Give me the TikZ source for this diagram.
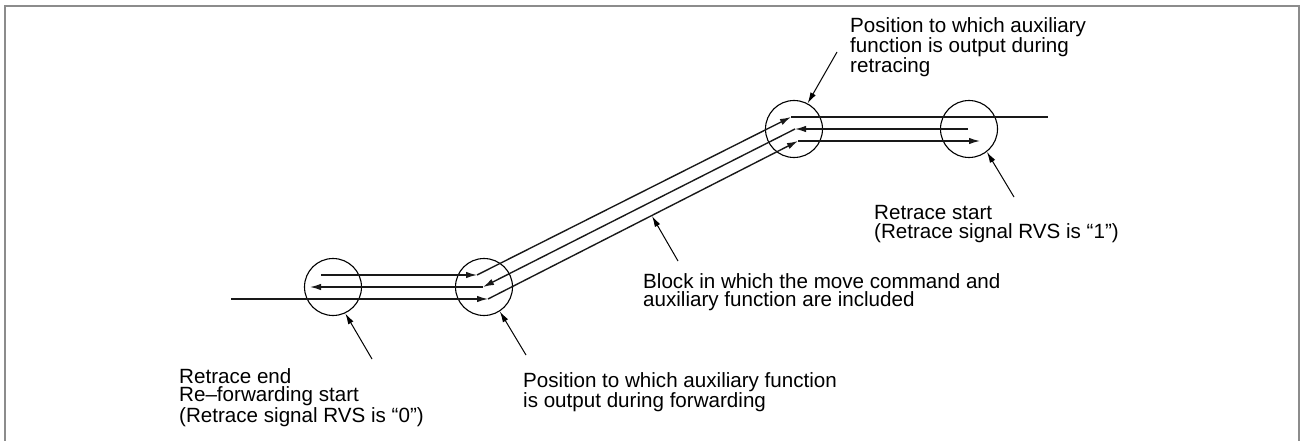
\documentclass[tikz,border=0pt]{standalone}
\usepackage{fontspec}
\setmainfont{Liberation Sans}
\usetikzlibrary{arrows.meta}
\begin{document}
\begin{tikzpicture}[x=1pt,y=-1pt,
  frameline/.style={draw=black!45,line width=2pt},
  mainline/.style={draw=black!90,line width=1.4pt},
  arr/.style={-{Latex[length=11pt,width=6.5pt]}},
  leader/.style={draw=black,line width=1pt,-{Latex[length=11pt,width=6pt]}},
  ring/.style={circle,draw=black,line width=1.1pt,minimum size=57pt,inner sep=0pt},
  lbl/.style={anchor=north west,align=left,inner sep=0pt,font=\fontsize{20.6}{18.7}\selectfont}]
\useasboundingbox (0,0) rectangle (1300,441);
% frame
\draw[frameline] (5,441) -- (5,6) -- (1298.5,6) -- (1298.5,441);
% circles
\node[ring] (cL) at (333,287) {};
\node[ring] (cM) at (484,287) {};
\node[ring] (cU) at (794,129) {};
\node[ring] (cR) at (969,129) {};
% path points
\coordinate (b0) at (231,299);
\coordinate (b1) at (488,299);
\coordinate (b2) at (798,141);
\coordinate (b3) at (980,141);
\coordinate (m0) at (968,129);
\coordinate (m1) at (795,129);
\coordinate (m2) at (483,287);
\coordinate (m3) at (310,287);
\coordinate (t0) at (321,275);
\coordinate (t1) at (477,275);
\coordinate (t2) at (791,117);
\coordinate (t3) at (1048,117);
% forward
\draw[mainline,arr] (b0) -- (b1);
\draw[mainline,arr] (b1) -- (b2);
\draw[mainline,arr] (b2) -- (b3);
% retrace
\draw[mainline,arr] (m0) -- (m1);
\draw[mainline,arr] (m1) -- (m2);
\draw[mainline,arr] (m2) -- (m3);
% re-forward
\draw[mainline,arr] (t0) -- (t1);
\draw[mainline,arr] (t1) -- (t2);
\draw[mainline] (t2) -- (t3);
% labels
\node[lbl] (txtU) at (850,17) {Position to which auxiliary\\function is output during\\retracing};
\node[lbl] (txtR) at (874,205) {Retrace start\\(Retrace signal RVS is “1”)};
\node[lbl] (txtB) at (643,273) {Block in which the move command and\\auxiliary function are included};
\node[lbl] (txtM) at (523,372) {Position to which auxiliary function\\is output during forwarding};
\node[lbl] (txtL) at (179,368) {Retrace end\\Re–forwarding start\\(Retrace signal RVS is “0”)};
% leaders
\coordinate (lU) at (837,52);
\coordinate (lR) at (1014,197);
\coordinate (lB) at (678,261);
\coordinate (lBt) at (652,216);
\coordinate (lM) at (526,355);
\coordinate (lL) at (372,359);
\draw[leader] (lU) -- (cU.62);
\draw[leader] (lR) -- (cR.-52);
\draw[leader] (lB) -- (lBt);
\draw[leader] (lM) -- (cM.-57);
\draw[leader] (lL) -- (cL.-65);
\end{tikzpicture}
\end{document}
